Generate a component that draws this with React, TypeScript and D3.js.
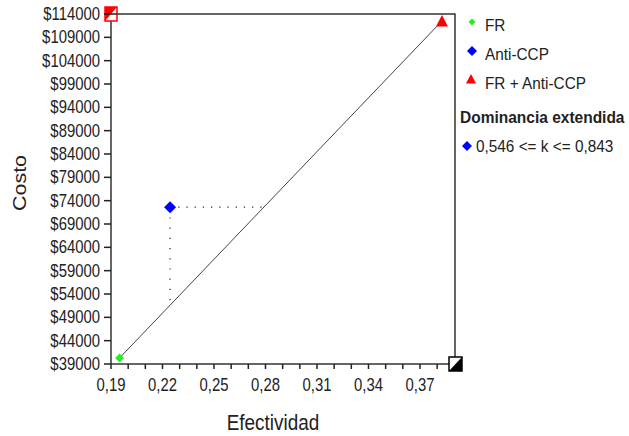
import React from "react";
import * as d3 from "d3";

// ---- Data ----
const strategies = ["FR", "Anti-CCP", "FR + Anti-CCP"];
const effectiveness = [0.195, 0.2244, 0.3828];
const costs = [40300, 72600, 112500];
const colors = ["#22ee22", "#0000ff", "#ff0000"];
const frontier = ["FR", "FR + Anti-CCP"];
const dominatedLabel = "0,546 <= k <= 0,843";
const xTickLabels = [0.19, 0.22, 0.25, 0.28, 0.31, 0.34, 0.37];
const xDomain = [0.19, 0.3904];
const yDomain = [39000, 114000];
const yStep = 5000;

const W = 629;
const H = 436;
const FONT = "'Liberation Sans', Arial, sans-serif";
const TXT = "#222";

const x = d3.scaleLinear().domain(xDomain).range([111, 455]);
const y = d3.scaleLinear().domain(yDomain).range([364, 14]);

const yTicks = d3.range(yDomain[0], yDomain[1] + 1, yStep);
const xMinor = d3.range(19, 40).map((v) => v / 100).filter((v) => v <= xDomain[1]);
const fmtX = (v: number) => d3.format(".2f")(v).replace(".", ",");

function T({ tx, ty, sx = 0.85, size = 17.5, anchor = "start", weight = "normal", children }: any) {
  return (
    <g transform={`translate(${tx},${ty}) scale(${sx},1)`}>
      <text
        textAnchor={anchor}
        dy="0.35em"
        fontFamily={FONT}
        fontSize={size}
        fontWeight={weight}
        fill={TXT}
      >
        {children}
      </text>
    </g>
  );
}

function Diamond({ cx, cy, r, fill }: any) {
  return <path d={`M${cx},${cy - r}L${cx + r},${cy}L${cx},${cy + r}L${cx - r},${cy}Z`} fill={fill} />;
}
function Tri({ cx, cy, r, fill }: any) {
  return <path d={`M${cx},${cy - r}L${cx + r},${cy + r * 0.9}L${cx - r},${cy + r * 0.9}Z`} fill={fill} />;
}

export default function App() {
  const idx = (name: string) => strategies.indexOf(name);
  const f0 = idx(frontier[0]);
  const f1 = idx(frontier[1]);
  const line = d3
    .line<number>()
    .x((i) => x(effectiveness[i]))
    .y((i) => y(costs[i]));
  const lineFn = (ex: number) =>
    costs[f0] + ((ex - effectiveness[f0]) * (costs[f1] - costs[f0])) / (effectiveness[f1] - effectiveness[f0]);
  const effAtCost = (c: number) =>
    effectiveness[f0] + ((c - costs[f0]) * (effectiveness[f1] - effectiveness[f0])) / (costs[f1] - costs[f0]);
  const d = idx("Anti-CCP");
  const [x0, x1] = x.range();
  const [y0, y1] = y.range();
  const legendY = [22, 51, 80];

  return (
    <svg width={W} height={H} style={{ position: "absolute", left: 0, top: 0, background: "#fff" }}>
      {/* frame */}
      <rect x={x0} y={y1} width={x1 - x0} height={y0 - y1} fill="none" stroke="#333" strokeWidth={1.5} />
      {/* y ticks */}
      {yTicks.map((t) => (
        <g key={t}>
          <line x1={x0 - 7} x2={x0} y1={y(t)} y2={y(t)} stroke="#222" strokeWidth={1.5} />
          <T tx={100} ty={y(t)} anchor="end">{"$" + t}</T>
        </g>
      ))}
      {/* x ticks */}
      {xMinor.map((t) => (
        <line key={t} x1={x(t)} x2={x(t)} y1={y0} y2={y0 + 5} stroke="#222" strokeWidth={1.5} />
      ))}
      {xTickLabels.map((t) => (
        <T key={t} tx={x(t)} ty={385} anchor="middle">{fmtX(t)}</T>
      ))}
      {/* axis titles */}
      <g transform="translate(20,183) scale(0.85,1) rotate(-90)">
        <text textAnchor="middle" dy="0.35em" fontFamily={FONT} fontSize={21.5} fill={TXT}>Costo</text>
      </g>
      <T tx={273} ty={422} size={21.5} sx={0.88} anchor="middle">Efectividad</T>
      {/* frontier line */}
      <path d={line([f0, f1]) || ""} fill="none" stroke="#444" strokeWidth={1} />
      {/* extended dominance dotted lines */}
      <line
        x1={x(effectiveness[d])}
        x2={x(effAtCost(costs[d]))}
        y1={y(costs[d])}
        y2={y(costs[d])}
        stroke="#222"
        strokeWidth={1.2}
        strokeDasharray="1.2,7"
      />
      <line
        x1={x(effectiveness[d])}
        x2={x(effectiveness[d])}
        y1={y(costs[d])}
        y2={y(lineFn(effectiveness[d]))}
        stroke="#222"
        strokeWidth={1.2}
        strokeDasharray="1.2,9"
      />
      {/* markers */}
      <Diamond cx={x(effectiveness[0])} cy={y(costs[0])} r={4.5} fill={colors[0]} />
      <Diamond cx={x(effectiveness[1])} cy={y(costs[1])} r={6} fill={colors[1]} />
      <Tri cx={x(effectiveness[2])} cy={y(costs[2])} r={6} fill={colors[2]} />
      {/* corner markers */}
      <g>
        <rect x={x0 - 6} y={y1 - 7} width={12} height={14} fill="#fff" stroke="#ff0000" strokeWidth={1.5} />
        <path d={`M${x0 - 6},${y1 - 7}L${x0 + 6},${y1 - 7}L${x0 - 6},${y1 + 7}Z`} fill="#ff0000" />
        <line x1={x0 - 7} x2={x0 + 6} y1={y1} y2={y1} stroke="#222" strokeWidth={1.5} />
      </g>
      <g>
        <rect x={x1 - 6} y={y0 - 7} width={13} height={14} fill="#fff" stroke="#000" strokeWidth={1.5} />
        <path d={`M${x1 + 7},${y0 - 7}L${x1 + 7},${y0 + 7}L${x1 - 6},${y0 + 7}Z`} fill="#000" />
      </g>
      {/* legend */}
      <Diamond cx={472} cy={legendY[0]} r={3.5} fill={colors[0]} />
      <Diamond cx={472} cy={legendY[1]} r={5} fill={colors[1]} />
      <Tri cx={471} cy={legendY[2] - 1} r={5} fill={colors[2]} />
      {strategies.map((s, i) => (
        <T key={s} tx={485} ty={legendY[i] + 3} size={16.5} sx={0.93}>{s}</T>
      ))}
      <T tx={460} ty={117} size={16.5} sx={0.94} weight="bold">Dominancia extendida</T>
      <Diamond cx={467} cy={146} r={5} fill={colors[1]} />
      <T tx={476} ty={146} size={16.5} sx={0.93}>{dominatedLabel}</T>
    </svg>
  );
}
